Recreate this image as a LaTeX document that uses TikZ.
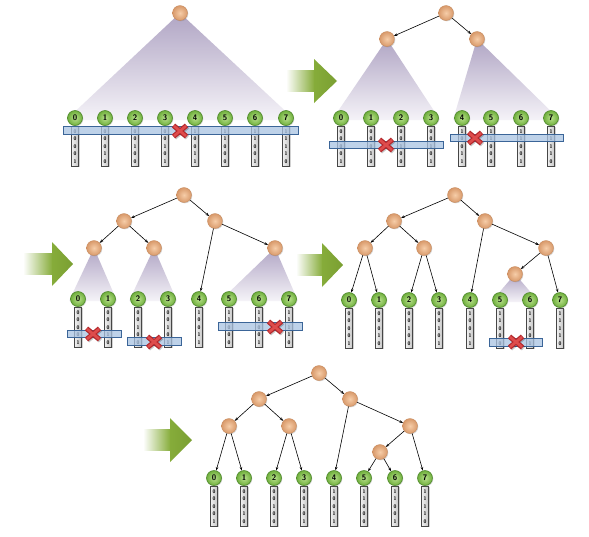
\documentclass[tikz,border=0pt]{standalone}
\usetikzlibrary{shadows,arrows.meta}
\pgfdeclarelayer{bg}
\pgfdeclarelayer{paper}
\pgfsetlayers{paper,bg,main}
\definecolor{orin}{HTML}{F6CDA8}
\definecolor{orout}{HTML}{D8996A}
\definecolor{ordraw}{HTML}{C48658}
\definecolor{grin}{HTML}{B9E28C}
\definecolor{grout}{HTML}{6FAE3C}
\definecolor{grdraw}{HTML}{4F8A2C}
\definecolor{conetop}{HTML}{B0A5C4}
\definecolor{conemid}{HTML}{C3BBD2}
\definecolor{conebot}{HTML}{F5F3F8}
\definecolor{bandfill}{HTML}{A9C3E2}
\definecolor{banddraw}{HTML}{3B6598}
\definecolor{xdark}{HTML}{B5282C}
\definecolor{xlight}{HTML}{DE4C4C}
\definecolor{arrgreen}{HTML}{86AC3A}
\definecolor{arrdark}{HTML}{7A9F32}
\tikzset{
  inode/.style={circle, minimum size=15, inner sep=0, inner color=orin, outer color=orout,
    draw=ordraw, line width=0.3, drop shadow={shadow xshift=0.8pt, shadow yshift=-0.8pt, opacity=0.3}},
  leafball/.style={circle, minimum size=15, inner sep=0, inner color=grin, outer color=grout,
    draw=grdraw, line width=0.6, font=\sffamily\bfseries\fontsize{8}{8}\selectfont,
    drop shadow={shadow xshift=0.8pt, shadow yshift=-0.8pt, opacity=0.3}},
  bitbar/.style={rectangle, minimum width=7, minimum height=40, inner sep=0, anchor=north,
    left color=gray!12, right color=gray!45, draw=gray!55!black, line width=0.5,
    align=center, font=\sffamily\bfseries\fontsize{5.2}{7.5}\selectfont,
    drop shadow={shadow xshift=1.2pt, shadow yshift=-1.2pt, opacity=0.35}},
  tedge/.style={-{Stealth[length=3.6pt,width=2.6pt]}, line width=0.6, black},
  cone/.style={top color=conetop, middle color=conemid, bottom color=conebot},
  band/.style={fill=bandfill, fill opacity=0.75, draw=banddraw, line width=0.8},
}
\newcommand\bitsof[1]{\ifcase#1 0\\0\\0\\0\\1\or 0\\0\\0\\1\\0\or 0\\0\\1\\0\\0\or 0\\0\\1\\0\\1\or 1\\0\\0\\1\\1\or 1\\1\\0\\0\\0\or 1\\1\\0\\0\\1\or 1\\1\\1\\1\\0\fi}
\newcommand\leafrow[3]{%
  \foreach \xx [count=\i from 0] in {#3}{%
    \node[bitbar] (#1b\i) at (\xx,#2+8) {\bitsof{\i}};
    \node[leafball] (#1l\i) at (\xx,#2) {\i};
  }}
\newcommand\band[3]{\path[band] (#1,#3-3.75) rectangle (#2,#3+3.75);}
\newcommand\xmk[2]{%
  \begin{scope}[shift={(#1,#2)}]
    \draw[line width=5pt, black, opacity=.22] (-5.5,-4.5) -- (7.5,6.5) (-5.5,6.5) -- (7.5,-4.5);
    \draw[line width=5pt, xdark] (-6.5,-5.5) -- (6.5,5.5) (-6.5,5.5) -- (6.5,-5.5);
    \draw[line width=2.6pt, xlight] (-6,-5) -- (6,5) (-6,5) -- (6,-5);
  \end{scope}}
\newcommand\garrow[4]{% x0, xmid, xtip, ycenter
  \shade[left color=white, right color=arrgreen] (#1,#4-10.5) rectangle (#2+0.5,#4+10.5);
  \shade[left color=arrgreen, right color=arrdark] (#2,#4-22) -- (#3,#4) -- (#2,#4+22) -- cycle;}
\newcommand\conepath[3]{% apex node, left leaf, right leaf
  \shade[cone] (#1.center) -- ([xshift=-9pt,yshift=-2pt]#2.center) -- ([xshift=9pt,yshift=-2pt]#3.center) -- cycle;}
\begin{document}
\begin{tikzpicture}[x=1pt,y=-1pt]
\useasboundingbox (0,0) rectangle (589,536);
\begin{pgfonlayer}{paper}\fill[white] (0,0) rectangle (589,536);\end{pgfonlayer}

% ---------- Panel 1 ----------
\leafrow{A}{118}{75,105,135,165,195,225,255,286}
\node[inode] (A0) at (180,13) {};
\begin{pgfonlayer}{bg}\conepath{A0}{Al0}{Al7}\end{pgfonlayer}
\band{63}{298}{130.5}
\xmk{180}{131}

% ---------- Panel 2 ----------
\leafrow{B}{118}{341,371,401,431,462,491,521,551}
\node[inode] (B0) at (446,13) {};
\node[inode] (B1) at (387,39) {};
\node[inode] (B2) at (477,39) {};
\begin{pgfonlayer}{bg}\conepath{B1}{Bl0}{Bl3}\conepath{B2}{Bl4}{Bl7}\end{pgfonlayer}
\draw[tedge] (B0) -- (B1);
\draw[tedge] (B0) -- (B2);
\band{329}{443}{145}
\band{450}{563}{138}
\xmk{386}{145}
\xmk{475}{138}

% ---------- Panel 3 ----------
\leafrow{C}{299}{78,108,138,168,199,229,259,289}
\node[inode] (C0) at (184,195) {};
\node[inode] (C1) at (124,221) {};
\node[inode] (C2) at (215,221) {};
\node[inode] (C3) at (94,248) {};
\node[inode] (C4) at (154,248) {};
\node[inode] (C5) at (275,248) {};
\begin{pgfonlayer}{bg}\conepath{C3}{Cl0}{Cl1}\conepath{C4}{Cl2}{Cl3}\conepath{C5}{Cl5}{Cl7}\end{pgfonlayer}
\draw[tedge] (C0) -- (C1);
\draw[tedge] (C0) -- (C2);
\draw[tedge] (C1) -- (C3);
\draw[tedge] (C1) -- (C4);
\draw[tedge] (C2) -- (Cl4);
\draw[tedge] (C2) -- (C5);
\band{67}{121}{334}
\band{127}{181}{341.5}
\band{218}{302}{326.5}
\xmk{93}{334}
\xmk{154}{342}
\xmk{275}{327}

% ---------- Panel 4 ----------
\leafrow{D}{300}{349,379,409,439,470,500,530,560}
\node[inode] (D0) at (455,195) {};
\node[inode] (D1) at (394,221) {};
\node[inode] (D2) at (485,221) {};
\node[inode] (D3) at (365,248) {};
\node[inode] (D4) at (424,248) {};
\node[inode] (D5) at (546,248) {};
\node[inode] (D6) at (515,274) {};
\begin{pgfonlayer}{bg}\conepath{D6}{Dl5}{Dl6}\end{pgfonlayer}
\draw[tedge] (D0) -- (D1);
\draw[tedge] (D0) -- (D2);
\draw[tedge] (D1) -- (D3);
\draw[tedge] (D1) -- (D4);
\draw[tedge] (D3) -- (Dl0);
\draw[tedge] (D3) -- (Dl1);
\draw[tedge] (D4) -- (Dl2);
\draw[tedge] (D4) -- (Dl3);
\draw[tedge] (D2) -- (Dl4);
\draw[tedge] (D2) -- (D5);
\draw[tedge] (D5) -- (D6);
\draw[tedge] (D5) -- (Dl7);
\band{489}{542}{342.5}
\xmk{516}{342}

% ---------- Panel 5 ----------
\leafrow{E}{478}{214,244,274,304,334,364,395,425}
\node[inode] (E0) at (319,373) {};
\node[inode] (E1) at (259,399) {};
\node[inode] (E2) at (350,399) {};
\node[inode] (E3) at (229,426) {};
\node[inode] (E4) at (289,426) {};
\node[inode] (E5) at (410,426) {};
\node[inode] (E6) at (380,452) {};
\draw[tedge] (E0) -- (E1);
\draw[tedge] (E0) -- (E2);
\draw[tedge] (E1) -- (E3);
\draw[tedge] (E1) -- (E4);
\draw[tedge] (E3) -- (El0);
\draw[tedge] (E3) -- (El1);
\draw[tedge] (E4) -- (El2);
\draw[tedge] (E4) -- (El3);
\draw[tedge] (E2) -- (El4);
\draw[tedge] (E2) -- (E5);
\draw[tedge] (E5) -- (E6);
\draw[tedge] (E5) -- (El7);
\draw[tedge] (E6) -- (El5);
\draw[tedge] (E6) -- (El6);

% ---------- Green arrows ----------
\garrow{286}{314}{337}{81}
\garrow{23}{52}{73}{264}
\garrow{296}{322}{343}{265}
\garrow{143}{170}{192}{440}
\end{tikzpicture}
\end{document}
